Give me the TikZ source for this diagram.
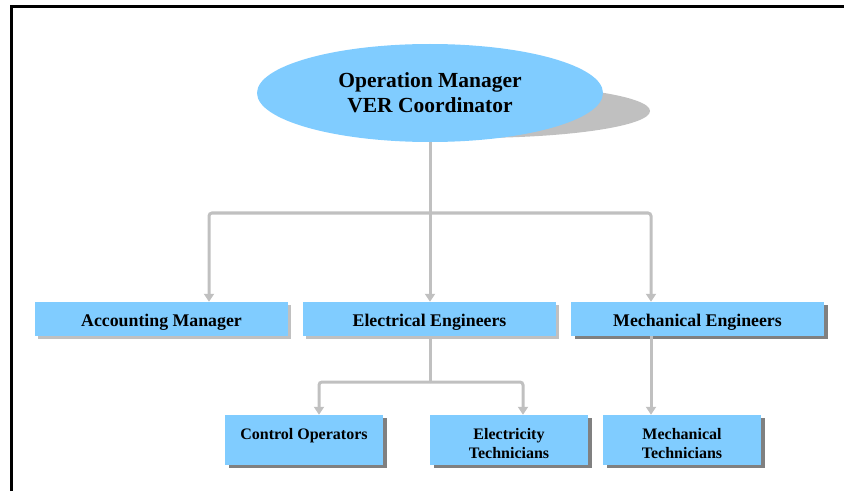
\documentclass[tikz,border=0pt]{standalone}
\usepackage{fontspec}
\setmainfont{Liberation Serif}
\usetikzlibrary{shapes.geometric,arrows.meta,shadows}
\definecolor{boxblue}{RGB}{128,204,255}
\definecolor{lightsh}{RGB}{192,192,192}
\definecolor{darksh}{RGB}{128,128,128}
\definecolor{conngray}{RGB}{192,192,192}
\tikzset{
  rowone/.style={rectangle, fill=boxblue, minimum width=253pt, minimum height=34pt, inner sep=0pt,
    font=\fontsize{17.8}{21}\selectfont\bfseries, text height=16pt, text depth=1pt},
  rowtwo/.style={rectangle, fill=boxblue, minimum width=158pt, minimum height=50pt, inner sep=0pt},
  twotxt/.style={font=\fontsize{16}{19}\selectfont\bfseries, align=center, inner sep=0pt, yshift=-3.5pt},
  lshadow/.style={drop shadow={shadow xshift=3pt, shadow yshift=-3pt, fill=lightsh, opacity=1}},
  dshadow/.style={drop shadow={shadow xshift=4pt, shadow yshift=-3pt, fill=darksh, opacity=1}},
  conn/.style={draw=conngray, line width=3pt, rounded corners=3pt},
  arr/.style={conn, -{Triangle[width=10pt,length=8pt]}},
}
\begin{document}
\begin{tikzpicture}[x=1pt,y=1pt]
\useasboundingbox (0,0) rectangle (844,491);
% frame
\draw[line width=3pt] (11.5,0) -- (11.5,484.5) -- (844,484.5);
% top ellipse with shadow
\fill[lightsh] (471,380) ellipse [x radius=179, y radius=27];
\node[ellipse, fill=boxblue, minimum width=346pt, minimum height=98pt, inner sep=0pt,
  font=\fontsize{21.5}{25}\selectfont\bfseries, align=center] (om) at (430,398)
  {Operation Manager\\VER Coordinator};
% row one
\node[rowone, lshadow] (am) at (161.5,172) {Accounting Manager};
\node[rowone, lshadow] (ee) at (429.5,172) {Electrical Engineers};
\node[rowone, dshadow] (me) at (697.5,172) {Mechanical Engineers};
% row two
\node[rowtwo, dshadow, label={[twotxt]center:Control Operators\\\phantom{T}}] (co) at (304,51) {};
\node[rowtwo, dshadow, label={[twotxt]center:Electricity\\Technicians}] (et) at (509,51) {};
\node[rowtwo, dshadow, label={[twotxt]center:Mechanical\\Technicians}] (mt) at (682,51) {};
% coordinates
\coordinate (b1) at (430,278);
\coordinate (xa) at (209,0);
\coordinate (xm) at (651,0);
\coordinate (b2) at (430,109);
\coordinate (xc) at (319,0);
\coordinate (xe) at (523,0);
% connectors
\draw[arr] (om.south -| b1) -- (ee.north -| b1);
\draw[arr] (b1) -| (am.north -| xa);
\draw[arr] (b1) -| (me.north -| xm);
\draw[conn] (ee.south -| b2) -- (b2);
\draw[arr] (b2) -| (co.north -| xc);
\draw[arr] (b2) -| (et.north -| xe);
\draw[arr] (me.south -| xm) -- (mt.north -| xm);
\end{tikzpicture}
\end{document}
